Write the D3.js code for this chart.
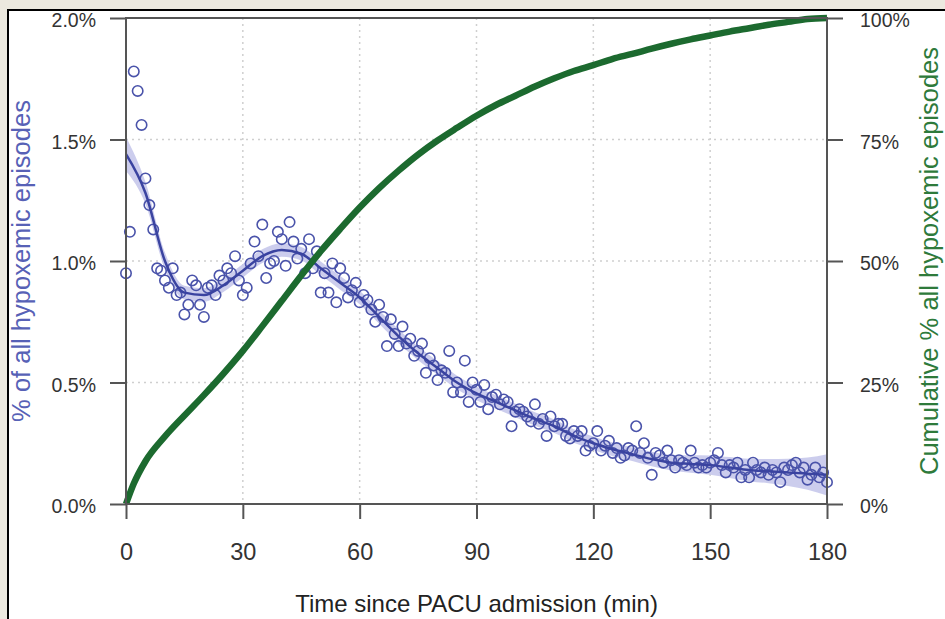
<!DOCTYPE html>
<html>
<head>
<meta charset="utf-8">
<script src="https://cdn.jsdelivr.net/npm/d3@7"></script>
<style>
  html, body { margin: 0; padding: 0; background: #ece9df; }
  svg { display: block; }
  text { font-family: "Liberation Sans", Arial, sans-serif; }
</style>
</head>
<body>
<div id="chart"></div>
<script>

// Data

// % of all hypoxemic episodes, one value per minute 0..180
const pctPerMinute = [
  0.95,1.12,1.78,1.70,1.56,1.34,1.23,1.13,0.97,0.96,
  0.92,0.89,0.97,0.86,0.87,0.78,0.82,0.92,0.90,0.82,
  0.77,0.89,0.90,0.86,0.94,0.92,0.97,0.95,1.02,0.92,
  0.86,0.89,0.99,1.08,1.02,1.15,0.93,0.99,1.00,1.12,
  1.09,0.98,1.16,1.08,1.01,1.05,0.95,1.09,0.97,1.04,
  0.87,0.95,0.87,0.99,0.83,0.97,0.93,0.85,0.88,0.91,
  0.83,0.86,0.84,0.80,0.75,0.82,0.77,0.65,0.76,0.70,
  0.65,0.73,0.66,0.68,0.61,0.63,0.66,0.54,0.60,0.57,
  0.51,0.55,0.54,0.63,0.46,0.50,0.46,0.59,0.42,0.50,
  0.47,0.42,0.49,0.39,0.44,0.45,0.41,0.43,0.42,0.32,
  0.38,0.39,0.38,0.36,0.34,0.41,0.33,0.35,0.28,0.36,
  0.32,0.33,0.33,0.28,0.27,0.30,0.28,0.30,0.22,0.24,
  0.25,0.30,0.22,0.24,0.26,0.21,0.23,0.19,0.20,0.23,
  0.22,0.32,0.21,0.25,0.19,0.12,0.21,0.20,0.17,0.22,
  0.18,0.15,0.18,0.17,0.16,0.22,0.17,0.15,0.16,0.15,
  0.17,0.18,0.21,0.16,0.13,0.16,0.15,0.17,0.11,0.14,
  0.11,0.17,0.14,0.13,0.15,0.12,0.14,0.13,0.09,0.15,
  0.14,0.16,0.17,0.13,0.15,0.10,0.12,0.15,0.11,0.13,0.09
];

// smoothed curve + confidence band
const smoothMin = [0,5,10,15,20,25,30,35,40,45,50,55,60,65,70,75,80,85,90,
                   95,100,105,110,115,120,125,130,135,140,145,150,155,160,165,170,175,180];
const smoothPct = [1.44,1.28,1.00,0.87,0.86,0.90,0.96,1.02,1.045,1.03,0.97,0.91,0.85,0.77,0.69,0.62,0.56,0.50,0.455,
                   0.42,0.385,0.35,0.32,0.28,0.25,0.225,0.205,0.185,0.17,0.165,0.16,0.15,0.14,0.135,0.13,0.125,0.12];
const bandHalf  = [0.07,0.045,0.035,0.028,0.028,0.028,0.028,0.028,0.028,0.028,0.028,0.028,0.028,0.028,0.028,0.028,0.028,0.028,0.028,
                   0.028,0.028,0.028,0.028,0.028,0.028,0.028,0.028,0.03,0.032,0.036,0.04,0.043,0.046,0.05,0.056,0.066,0.085];

// cumulative % of all hypoxemic episodes
const cumMin = [0,2,5,10,15,20,25,30,35,40,45,50,55,60,65,70,75,80,85,90,
                95,100,105,110,115,120,125,130,135,140,145,150,155,160,165,170,175,180];
const cumPct = [0,4.2,8.8,13.9,18.2,22.4,26.8,31.5,36.6,41.8,47.0,52.0,56.6,61.0,65.0,68.6,71.9,74.8,77.4,79.9,
                82.1,84.0,85.9,87.6,89.1,90.3,91.6,92.6,93.7,94.7,95.6,96.4,97.2,97.9,98.6,99.2,99.8,100];

const xTicks = [0,30,60,90,120,150,180];
const yLeftTicks = [0,0.5,1.0,1.5,2.0];
const yRightTicks = [0,25,50,75,100];

// Layout
const width = 945, height = 619;
const plot = {left: 126, right: 827, top: 18, bottom: 504};

const svg = d3.select("#chart").append("svg")
  .attr("width", width)
  .attr("height", height);

// white panel with black left/top border
svg.append("rect")
  .attr("x", 8).attr("y", 10)
  .attr("width", width).attr("height", height)
  .attr("fill", "#ffffff")
  .attr("stroke", "#000")
  .attr("stroke-width", 2);

// scales
const x = d3.scaleLinear().domain([0,180]).range([plot.left, plot.right]);
const yL = d3.scaleLinear().domain([0,2]).range([plot.bottom, plot.top]);
const yR = d3.scaleLinear().domain([0,100]).range([plot.bottom, plot.top]);

// grid (dotted)
const grid = svg.append("g");
grid.selectAll(".hgrid")
  .data(yLeftTicks.filter(d => d > 0 && d < 2))
  .enter().append("line")
    .attr("x1", plot.left).attr("x2", plot.right)
    .attr("y1", d => yL(d)).attr("y2", d => yL(d))
    .attr("stroke", "#cfcfcf").attr("stroke-width", 1.5)
    .attr("stroke-dasharray", "2,4");
grid.selectAll(".vgrid")
  .data(xTicks.filter(d => d > 0 && d < 180))
  .enter().append("line")
    .attr("x1", d => x(d)).attr("x2", d => x(d))
    .attr("y1", plot.top).attr("y2", plot.bottom)
    .attr("stroke", "#cfcfcf").attr("stroke-width", 1.5)
    .attr("stroke-dasharray", "2,4");

// confidence band
const band = d3.area()
  .x((d,i) => x(smoothMin[i]))
  .y0((d,i) => yL(smoothPct[i] - bandHalf[i]))
  .y1((d,i) => yL(smoothPct[i] + bandHalf[i]))
  .curve(d3.curveMonotoneX);

svg.append("path")
  .datum(smoothPct)
  .attr("d", band)
  .attr("fill", "#c6c8eb")
  .attr("opacity", 0.9);

// points
svg.append("g").selectAll("circle")
  .data(pctPerMinute)
  .enter().append("circle")
    .attr("cx", (d,i) => x(i))
    .attr("cy", d => yL(d))
    .attr("r", 5.2)
    .attr("fill", "none")
    .attr("stroke", "#4a53aa")
    .attr("stroke-width", 1.6);

// smoothed line
const smoothLine = d3.line()
  .x((d,i) => x(smoothMin[i]))
  .y(d => yL(d))
  .curve(d3.curveMonotoneX);

svg.append("path")
  .datum(smoothPct)
  .attr("d", smoothLine)
  .attr("fill", "none")
  .attr("stroke", "#3a43a0")
  .attr("stroke-width", 2.5);

// cumulative line
const cumLine = d3.line()
  .x((d,i) => x(cumMin[i]))
  .y(d => yR(d))
  .curve(d3.curveMonotoneX);

svg.append("path")
  .datum(cumPct)
  .attr("d", cumLine)
  .attr("fill", "none")
  .attr("stroke", "#1c6a2f")
  .attr("stroke-width", 6.5);

// box
svg.append("rect")
  .attr("x", plot.left).attr("y", plot.top)
  .attr("width", plot.right - plot.left)
  .attr("height", plot.bottom - plot.top)
  .attr("fill", "none")
  .attr("stroke", "#555")
  .attr("stroke-width", 2);

// axes
function styleAxis(g, size) {
  g.select(".domain").remove();
  g.selectAll(".tick line").attr("stroke", "#555").attr("stroke-width", 2);
  g.selectAll(".tick text")
    .attr("fill", "#333")
    .style("font-size", size + "px")
    .style("font-family", "'Liberation Sans', Arial, sans-serif");
}

svg.append("g")
  .attr("transform", `translate(${plot.left},0)`)
  .call(d3.axisLeft(yL).tickValues(yLeftTicks)
          .tickFormat(d => d.toFixed(1) + "%")
          .tickSize(16).tickPadding(14))
  .call(g => styleAxis(g, 19.5))
  .call(g => g.selectAll(".tick text").attr("dy", "0.45em"));

svg.append("g")
  .attr("transform", `translate(${plot.right},0)`)
  .call(d3.axisRight(yR).tickValues(yRightTicks)
          .tickFormat(d => d + "%")
          .tickSize(16).tickPadding(17))
  .call(g => styleAxis(g, 19.5))
  .call(g => g.selectAll(".tick text").attr("dy", "0.45em"));

svg.append("g")
  .attr("transform", `translate(0,${plot.bottom})`)
  .call(d3.axisBottom(x).tickValues(xTicks)
          .tickSize(15).tickPadding(24))
  .call(g => styleAxis(g, 23.5));

// axis titles
svg.append("text")
  .attr("transform", `translate(30,${(plot.top + plot.bottom) / 2}) rotate(-90)`)
  .attr("text-anchor", "middle")
  .attr("fill", "#5761b6")
  .style("font-size", "25.5px")
  .text("% of all hypoxemic episodes");

svg.append("text")
  .attr("transform", `translate(938,${(plot.top + plot.bottom) / 2}) rotate(-90)`)
  .attr("text-anchor", "middle")
  .attr("fill", "#2e7a3b")
  .style("font-size", "25.5px")
  .text("Cumulative % all hypoxemic episodes");

svg.append("text")
  .attr("x", (plot.left + plot.right) / 2)
  .attr("y", 612)
  .attr("text-anchor", "middle")
  .attr("fill", "#222")
  .style("font-size", "24px")
  .text("Time since PACU admission (min)");

</script>
</body>
</html>
